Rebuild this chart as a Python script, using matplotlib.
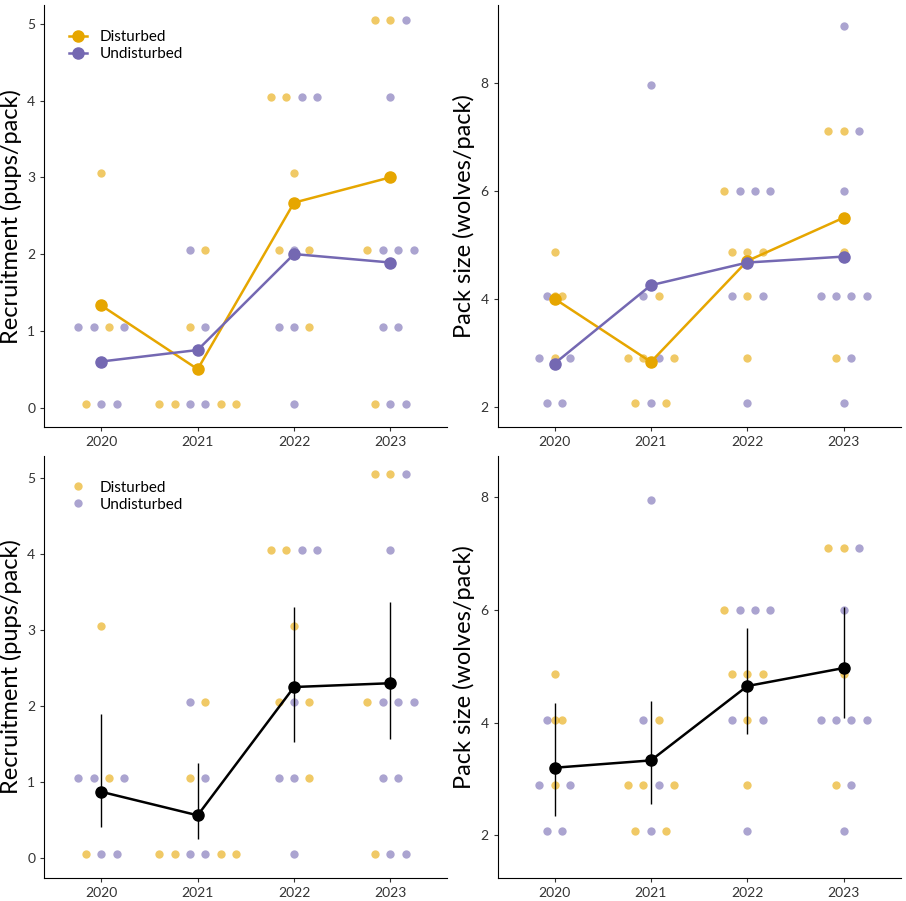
import matplotlib
matplotlib.use("Agg")
import matplotlib.pyplot as plt

D_COL = "#E6A600"
U_COL = "#7468B2"
YEARS = [2020, 2021, 2022, 2023]
STEP = 0.16

# dot rows per year: (y value, colours left to right, "D"/"U")
RECRUIT = {
    2020: [(3.05, "D"), (1.05, "UUDU"), (0.05, "DUU")],
    2021: [(2.05, "UD"), (1.05, "DU"), (0.05, "DDUUDD")],
    2022: [(4.05, "DDUU"), (3.05, "D"), (2.05, "DUD"), (1.05, "UUD"), (0.05, "U")],
    2023: [(5.05, "DDU"), (4.05, "U"), (2.05, "DUUU"), (1.05, "UU"), (0.05, "DUU")],
}
PACK = {
    2020: [(4.87, "D"), (4.05, "UDD"), (2.9, "UDU"), (2.07, "UU")],
    2021: [(7.95, "U"), (4.05, "UD"), (2.9, "DDUD"), (2.07, "DUD")],
    2022: [(6.0, "DUUU"), (4.87, "DDD"), (4.05, "UDU"), (2.9, "D"), (2.07, "U")],
    2023: [(9.05, "U"), (7.1, "DDU"), (6.0, "U"), (4.87, "D"), (4.05, "UUUU"),
           (2.9, "DU"), (2.07, "U")],
}
PACK_NO_OUTLIER = dict(PACK)
PACK_NO_OUTLIER[2023] = PACK[2023][1:]

GROUP_MEANS = {
    "recruit": {"D": [1.33, 0.5, 2.67, 3.0], "U": [0.6, 0.75, 2.0, 1.89]},
    "pack": {"D": [4.0, 2.83, 4.7, 5.5], "U": [2.8, 4.25, 4.67, 4.78]},
}
POOLED = {
    "recruit": ([0.87, 0.56, 2.25, 2.3], [0.4, 0.25, 1.52, 1.57], [1.9, 1.25, 3.3, 3.37]),
    "pack": ([3.2, 3.33, 4.65, 4.97], [2.35, 2.55, 3.8, 4.08], [4.35, 4.38, 5.68, 6.05]),
}


def draw_dots(ax, rows):
    for year, groups in rows.items():
        for y, cols in groups:
            n = len(cols)
            spacing = STEP / 2 if (year == 2020 and y == 4.05) else STEP
            for i, c in enumerate(cols):
                x = year + (i - (n - 1) / 2) * spacing
                ax.plot(x, y, "o", ms=6, mec="none", alpha=0.6,
                        color=D_COL if c == "D" else U_COL, zorder=2)


def style(ax, ylabel, ylim, yticks):
    ax.set_xlim(2019.41, 2023.59)
    ax.set_xticks(YEARS)
    ax.set_ylim(*ylim)
    ax.set_yticks(yticks)
    ax.set_ylabel(ylabel, fontsize=17)
    ax.tick_params(labelsize=10, colors="#333333", length=3)
    for s in ["top", "right"]:
        ax.spines[s].set_visible(False)


def main():
    plt.rcParams["font.family"] = ["Lato", "DejaVu Sans"]
    fig, axes = plt.subplots(2, 2, figsize=(9.06, 9.01), dpi=100)
    fig.subplots_adjust(left=0.049, right=0.994, top=0.994, bottom=0.026,
                        wspace=0.125, hspace=0.07)

    # top row: group means
    for ax, rows, key in [(axes[0, 0], RECRUIT, "recruit"), (axes[0, 1], PACK, "pack")]:
        draw_dots(ax, rows)
        ax.plot(YEARS, GROUP_MEANS[key]["D"], "-o", color=D_COL, lw=1.8, ms=8,
                label="Disturbed", zorder=3)
        ax.plot(YEARS, GROUP_MEANS[key]["U"], "-o", color=U_COL, lw=1.8, ms=8,
                label="Undisturbed", zorder=3)
    axes[0, 0].legend(loc="upper left", frameon=False, fontsize=11,
                      handlelength=1.2, borderaxespad=1.2, labelspacing=0.2)

    # bottom row: pooled means with error bars
    for ax, rows, key in [(axes[1, 0], RECRUIT, "recruit"),
                          (axes[1, 1], PACK_NO_OUTLIER, "pack")]:
        draw_dots(ax, rows)
        mean, lo, hi = POOLED[key]
        ax.vlines(YEARS, lo, hi, color="black", lw=1, zorder=3)
        ax.plot(YEARS, mean, "-o", color="black", lw=1.8, ms=8, zorder=4)
    axes[1, 0].plot([], [], "o", color=D_COL, alpha=0.6, mec="none", ms=6, label="Disturbed")
    axes[1, 0].plot([], [], "o", color=U_COL, alpha=0.6, mec="none", ms=6, label="Undisturbed")
    axes[1, 0].legend(loc="upper left", frameon=False, fontsize=11,
                      handlelength=1.2, borderaxespad=1.2, labelspacing=0.2)

    style(axes[0, 0], "Recruitment (pups/pack)", (-0.25, 5.24), range(6))
    style(axes[0, 1], "Pack size (wolves/pack)", (1.63, 9.43), [2, 4, 6, 8])
    style(axes[1, 0], "Recruitment (pups/pack)", (-0.26, 5.29), range(6))
    style(axes[1, 1], "Pack size (wolves/pack)", (1.25, 8.73), [2, 4, 6, 8])

    fig.savefig("out.png", dpi=100)
    plt.close(fig)


if __name__ == "__main__":
    main()
